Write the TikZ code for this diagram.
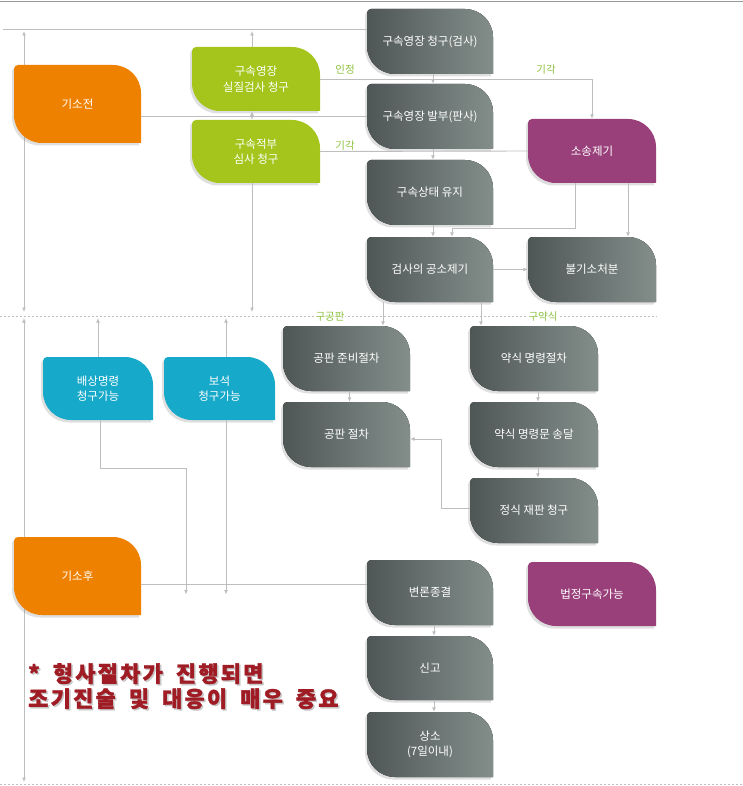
\documentclass[tikz,border=0pt]{standalone}
\usepackage{fontspec}
\setmainfont{Noto Sans CJK KR}[AutoFakeBold=2.5]
\newfontfamily\notefont{Noto Sans CJK KR}[LetterSpace=10, WordSpace=1.8, BoldFeatures={FakeBold=1.5}]
\usetikzlibrary{arrows.meta,shadows}

\definecolor{boxorange}{HTML}{EE8100}
\definecolor{boxgreen}{HTML}{A5C51C}
\definecolor{boxcyan}{HTML}{17A9C9}
\definecolor{boxpurple}{HTML}{99407B}
\definecolor{graydark}{HTML}{4F5756}
\definecolor{graylight}{HTML}{838E8B}
\definecolor{linegray}{HTML}{BEBEBE}
\definecolor{labelgreen}{HTML}{8DC23F}
\definecolor{notered}{HTML}{A01C24}

\tikzset{
  boxtext/.style={text=white, font=\fontsize{11.5}{15.5}\selectfont, align=center, inner sep=0pt},
  leafshadow/.style={drop shadow={shadow xshift=-2pt, shadow yshift=-2.5pt, opacity=.25}},
  orange/.style={fill=boxorange, leafshadow},
  green/.style={fill=boxgreen, leafshadow},
  cyan/.style={fill=boxcyan, leafshadow},
  purple/.style={fill=boxpurple, leafshadow},
  gray/.style={left color=graydark, right color=graylight, leafshadow},
  conn/.style={draw=linegray, line width=0.9pt},
  sep/.style={draw=linegray, line width=0.8pt, dash pattern=on 2pt off 2pt},
  lbl/.style={text=labelgreen, font=\fontsize{10.5}{12}\selectfont, inner sep=1pt},
  note/.style={text=notered, font=\notefont\bfseries\fontsize{22}{25}\selectfont, align=left, inner sep=0pt}
}

% leaf box: name, cx, cy, width, height, look, text
\newcommand{\leaf}[7]{%
  \fill[#6] ({#2-#4/2},{#3-#5/2+4}) arc[start angle=180, end angle=90, radius=4pt]
    -- ({#2+#4/2-28},{#3-#5/2}) arc[start angle=90, end angle=0, radius=28pt]
    -- ({#2+#4/2},{#3+#5/2}) -- ({#2-#4/2+28},{#3+#5/2})
    arc[start angle=270, end angle=180, radius=28pt] -- cycle;
  \node[boxtext, minimum width=#4, minimum height=#5] (#1) at (#2,#3) {#7};}

\begin{document}
\begin{tikzpicture}[x=1pt, y=-1pt, >={Latex[length=4.5pt,width=4pt]}]
\useasboundingbox (0,0) rectangle (743,786);
\draw[black!40, line width=1.5pt] (0,1.5) -- (743,1.5);

% time lines and separators
\coordinate (topleft) at (3,29);
\coordinate (t0) at (24,31);
\coordinate (t1) at (24,312);
\coordinate (t2) at (24,318);
\coordinate (t3) at (24,782);
\draw[sep] (0,316) -- (657,316);
\draw[sep] (0,784) -- (743,784);
\draw[conn, <->] (t0) -- (t1);
\draw[conn, <->] (t2) -- (t3);

% boxes
\leaf{before}{77.5}{104}{127}{78}{orange}{기소전}
\leaf{after}{77.5}{576}{127}{78}{orange}{기소후}
\leaf{hearing}{256}{79}{128}{64}{green}{구속영장\\실질검사 청구}
\leaf{habeas}{256}{151.5}{128}{63}{green}{구속적부\\심사 청구}
\leaf{request}{430}{41.5}{126}{65}{gray}{구속영장 청구(검사)}
\leaf{issue}{430}{116.5}{126}{65}{gray}{구속영장 발부(판사)}
\leaf{detain}{430}{192.5}{126}{65}{gray}{구속상태 유지}
\leaf{indict}{430}{269.5}{126}{65}{gray}{검사의 공소제기}
\leaf{suit}{592}{151}{128}{64}{purple}{소송제기}
\leaf{nopros}{592}{269.5}{128}{65}{gray}{불기소처분}
\leaf{prep}{346.5}{358.5}{127}{65}{gray}{공판 준비절차}
\leaf{trial}{346.5}{434.5}{127}{65}{gray}{공판 절차}
\leaf{summary}{534}{358.5}{128}{65}{gray}{약식 명령절차}
\leaf{notice}{534}{434.5}{128}{65}{gray}{약식 명령문 송달}
\leaf{formal}{534}{510.5}{128}{65}{gray}{정식 재판 청구}
\leaf{damages}{98}{388.5}{110}{63}{cyan}{배상명령\\청구가능}
\leaf{bail}{219.5}{388.5}{111}{63}{cyan}{보석\\청구가능}
\leaf{close}{430}{592.5}{126}{65}{gray}{변론종결}
\leaf{custody}{592}{594}{128}{64}{purple}{법정구속가능}
\leaf{report}{430}{668}{126}{64}{gray}{신고}
\leaf{appeal}{430}{744.5}{126}{65}{gray}{상소\\(7일이내)}

% connectors
\draw[conn] (topleft) -- (topleft -| request.west);
\draw[conn] (issue.west) -- (issue.west -| before.east);
\draw[conn, ->] ([xshift=-4]hearing.north) -- ([xshift=-4]hearing.north |- t0);
\draw[conn, <->] ([xshift=-4]hearing.south) -- ([xshift=-4]habeas.north);
\draw[conn, ->] ([xshift=-4]habeas.south) -- ([xshift=-4]habeas.south |- t1);
\draw[conn, ->] (hearing.east) -| (suit.north);
\draw[conn] (habeas.east) -- (suit.west);
\node[lbl] (ok) at (345,70) {인정};
\node[lbl] (no1) at (546,70) {기각};
\node[lbl] (no2) at (345,146) {기각};
\draw[conn, ->] ([xshift=3]request.south) -- ([xshift=3]issue.north);
\draw[conn, ->] ([xshift=3]issue.south) -- ([xshift=3]detain.north);
\draw[conn, ->] ([xshift=3]detain.south) -- ([xshift=3]indict.north);
\draw[conn, ->] ([xshift=-17]suit.south) -- ++(0,45) -| ([xshift=22]indict.north);
\draw[conn, ->] ([xshift=36]suit.south) -- ([xshift=36]nopros.north);
\draw[conn, ->] (indict) -- (nopros);
\draw[conn, ->] ([xshift=-47]indict.south) -- ([xshift=-47]indict.south |- prep.north);
\draw[conn, ->] ([xshift=51]indict.south) -- ([xshift=51]indict.south |- summary.north);
\node[lbl, fill=white] (gong) at (330,317) {구공판};
\node[lbl, fill=white] (yak) at (543,317) {구약식};
\draw[conn, ->] ([xshift=3]prep.south) -- ([xshift=3]trial.north);
\draw[conn, ->] ([xshift=4]summary.south) -- ([xshift=4]notice.north);
\draw[conn, ->] ([xshift=4]notice.south) -- ([xshift=4]formal.north);
\draw[conn, ->] ([yshift=2.5]formal.west) -- ++(-28,0) |- ([yshift=-4.5]trial.east);
\draw[conn, ->] (damages.north) -- (damages.north |- t2);
\draw[conn, ->] ([xshift=6.5]bail.north) -- ([xshift=6.5]bail.north |- t2);
\draw[conn] ([yshift=-8]after.east) -- ([yshift=8.5]close.west);
\draw[conn, ->] ([xshift=2]damages.south) -- ++(0,48) -| ([xshift=-33.5,yshift=-2]bail.south |- close.west);
\draw[conn, ->] ([xshift=6.5]bail.south) -- ([xshift=6.5,yshift=-2]bail.south |- close.west);
\draw[conn, ->] ([xshift=4]close.south) -- ([xshift=4]report.north);
\draw[conn, ->] ([xshift=4]report.south) -- ([xshift=4]appeal.north);

% note
\node[note, text=black!22, anchor=north west] (tipshade) at (29.5,664.5) {* 형사절차가 진행되면\\조기진술 및 대응이 매우 중요};
\node[note, anchor=north west] (tip) at (28,663) {* 형사절차가 진행되면\\조기진술 및 대응이 매우 중요};
\end{tikzpicture}
\end{document}
